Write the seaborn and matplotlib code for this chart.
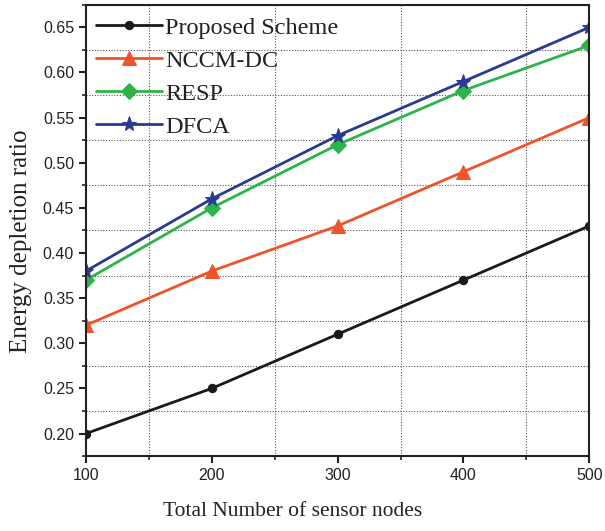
import numpy as np
import pandas as pd
import matplotlib
matplotlib.use("Agg")
import matplotlib.pyplot as plt
import seaborn as sns
from matplotlib.ticker import MultipleLocator

nodes = [100, 200, 300, 400, 500]
proposed = [0.20, 0.25, 0.31, 0.37, 0.43]
nccm_dc = [0.32, 0.38, 0.43, 0.49, 0.55]
resp = [0.37, 0.45, 0.52, 0.58, 0.63]
dfca = [0.38, 0.46, 0.53, 0.59, 0.65]

schemes = ["Proposed Scheme", "NCCM-DC", "RESP", "DFCA"]
colors = ["#1a1a1a", "#f0522a", "#2db34a", "#2b3990"]
markers = ["o", "^", "D", "*"]
msizes = [6, 10, 8, 11]

sns.set_style("ticks")

df = pd.DataFrame({
    "nodes": nodes * 4,
    "ratio": proposed + nccm_dc + resp + dfca,
    "scheme": sum([[s] * len(nodes) for s in schemes], []),
})

fig = plt.figure(figsize=(6.05, 5.31), dpi=100)
ax = fig.add_axes([0.142, 0.141, 0.832, 0.85])

for s, c, m, ms in zip(schemes, colors, markers, msizes):
    sub = df[df["scheme"] == s]
    sns.lineplot(data=sub, x="nodes", y="ratio", ax=ax, color=c, marker=m,
                 markersize=ms, markeredgecolor=c, linewidth=2, label=s)

ax.set_xlim(100, 500)
ax.set_ylim(0.175, 0.675)
ax.xaxis.set_major_locator(MultipleLocator(100))
ax.xaxis.set_minor_locator(MultipleLocator(50))
ax.set_yticks(np.arange(0.20, 0.651, 0.05))
ax.yaxis.set_minor_locator(MultipleLocator(0.025))

ax.grid(which="minor", color="#555555", linestyle=(0, (1, 1.5)), linewidth=0.8)
ax.grid(which="major", visible=False)

for sp in ax.spines.values():
    sp.set_linewidth(1.5)
    sp.set_color("#222222")
ax.tick_params(which="major", direction="out", length=5, width=1.5,
               labelsize=11.5, colors="#222222")
ax.tick_params(which="minor", direction="out", length=3, width=1.2, colors="#222222")
for lbl in ax.get_xticklabels() + ax.get_yticklabels():
    lbl.set_fontfamily("Liberation Sans")

ax.set_xlabel("Total Number of sensor nodes", fontfamily="Liberation Serif",
              fontsize=15.5, color="#222222")
ax.xaxis.set_label_coords(0.41, -0.122, transform=ax.transAxes)
ax.xaxis.label.set_va("center")
ax.set_ylabel("Energy depletion ratio", fontfamily="Liberation Serif",
              fontsize=18, color="#222222")
ax.yaxis.set_label_coords(-0.108, 0.475, transform=ax.transAxes)

leg = ax.legend(loc="upper left", frameon=False, handlelength=2.7,
                prop={"family": "Liberation Serif", "size": 17.5},
                borderaxespad=0.1, labelspacing=0.45, handletextpad=0.15,
                bbox_to_anchor=(-0.004, 1.0))
for t in leg.get_texts():
    t.set_color("#222222")

fig.savefig("out.png", dpi=100)
